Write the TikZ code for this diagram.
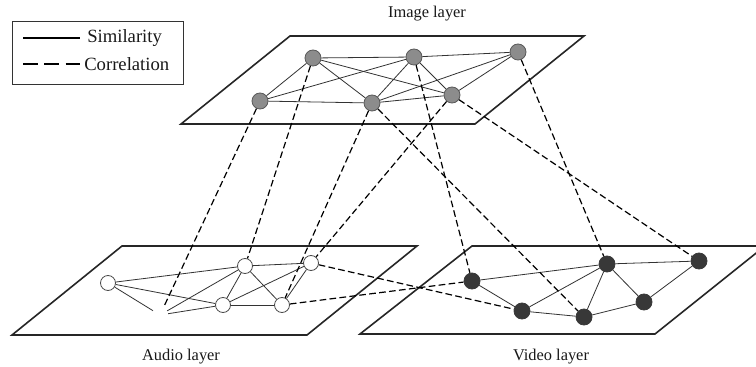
\documentclass[tikz,border=0pt]{standalone}
\usepackage{fontspec}
\setmainfont{Liberation Serif}
\begin{document}
\begin{tikzpicture}[x=0.75pt,y=-0.75pt,
  plane/.style={draw=black!85, line width=1.2pt, line join=miter},
  sim/.style={draw=black!80, line width=0.6pt},
  cor/.style={draw=black, line width=0.9pt, dash pattern=on 5pt off 2.5pt},
  inode/.style={circle, draw=black!65, fill=black!45, line width=0.6pt, minimum size=12pt, inner sep=0pt},
  anode/.style={circle, draw=black!70, fill=white, line width=0.6pt, minimum size=11.25pt, inner sep=0pt},
  vnode/.style={circle, draw=black!78, fill=black!78, line width=0.6pt, minimum size=12pt, inner sep=0pt},
  hnode/.style={circle, minimum size=12pt, inner sep=0pt},
  lbl/.style={font=\fontsize{12.3}{14}\selectfont, text=black!90},
  legtxt/.style={font=\fontsize{14}{16}\selectfont, text=black!90, anchor=west, inner sep=0pt}]
\useasboundingbox (0,0) rectangle (756,367);
\fill[white] (0,0) rectangle (756,367);

% legend
\node[draw=black!80, line width=0.6pt, minimum width=171*0.75pt, minimum height=63*0.75pt, inner sep=0pt, anchor=north west] (legend) at (12,21) {};
\coordinate (ls1) at (23,38); \coordinate (ls2) at (80,38);
\coordinate (lc1) at (23,64); \coordinate (lc2) at (80,64);
\draw[line width=1.5pt] (ls1) -- (ls2);
\draw[line width=1.5pt, dash pattern=on 11pt off 5pt] (lc1) -- (lc2);
\node[legtxt] (lsim) at (87,38) {Similarity};
\node[legtxt] (lcor) at (84,64) {Correlation};

% planes
\draw[plane] (181,124) -- (475,124) -- (584,36) -- (290,36) -- cycle;
\draw[plane] (12,335) -- (307,335) -- (417,246) -- (122,246) -- cycle;
\begin{scope}
\clip (0,0) rectangle (756,367);
\draw[plane] (360,334) -- (655,334) -- (765,246) -- (472,246) -- cycle;
\end{scope}

% labels
\node[lbl] (limg) at (427,14) {Image layer};
\node[lbl] (laud) at (181,357) {Audio layer};
\node[lbl] (lvid) at (551,357) {Video layer};

% image nodes
\node[inode] (a1) at (313,58) {};
\node[inode] (a2) at (414,57) {};
\node[inode] (a3) at (518,52) {};
\node[inode] (a4) at (260,101) {};
\node[inode] (a5) at (372,103) {};
\node[inode] (a6) at (452,95) {};

% audio nodes
\node[hnode] (b0) at (160,315) {};
\node[anode] (b1) at (108,283) {};
\node[anode] (b2) at (245,266) {};
\node[anode] (b3) at (311,263) {};
\node[anode] (b4) at (223,305) {};
\node[anode] (b5) at (282,305) {};

% video nodes
\node[vnode] (v1) at (472,281) {};
\node[vnode] (v2) at (607,264) {};
\node[vnode] (v3) at (699,261) {};
\node[vnode] (v4) at (522,311) {};
\node[vnode] (v5) at (584,317) {};
\node[vnode] (v6) at (644,302) {};

% similarity edges
\foreach \p/\q in {a1/a2,a2/a3,a1/a4,a4/a2,a4/a5,a1/a5,a1/a6,a2/a5,a2/a6,a3/a5,a3/a6,a5/a6,
  b1/b2,b1/b4,b1/b0,b0/b2,b0/b4,b2/b3,b2/b4,b2/b5,b3/b4,b3/b5,b4/b5,
  v1/v2,v1/v4,v2/v3,v2/v4,v2/v5,v2/v6,v3/v6,v4/v5,v5/v6}
  \draw[sim] (\p) -- (\q);

% correlation edges
\foreach \p/\q in {a4/b0,a1/b2,a5/b5,a6/b3,a2/v1,a5/v5,a3/v2,a6/v3,b3/v4,b5/v1}
  \draw[cor] (\p) -- (\q);
\end{tikzpicture}
\end{document}
